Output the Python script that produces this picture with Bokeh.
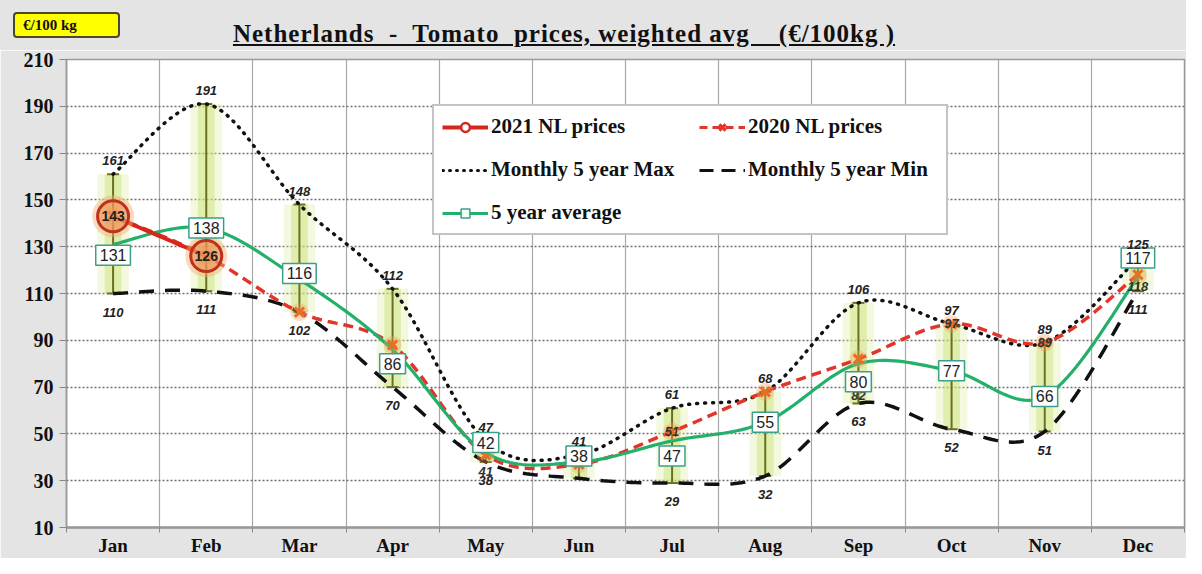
import numpy as np
from bokeh.plotting import figure
from bokeh.layouts import column
from bokeh.models import (ColumnDataSource, Legend, LegendItem, FixedTicker, Range1d, Div)
from bokeh.core.properties import value
from bokeh.embed import file_html
from bokeh.resources import INLINE

# ---------------- data ----------------
months = ["Jan", "Feb", "Mar", "Apr", "May", "Jun", "Jul", "Aug", "Sep", "Oct", "Nov", "Dec"]
max5 = [161, 191, 148, 112, 47, 41, 61, 68, 106, 97, 89, 125]
min5 = [110, 111, 102, 70, 38, 31, 29, 32, 63, 52, 51, 111]
avg5 = [131, 138, 116, 86, 42, 38, 47, 55, 80, 77, 66, 117]
nl2020 = [143, 126, 102, 88, 41, 37, 51, 68, 82, 97, 89, 118]
nl2021 = [143, 126]
# which labels are visible in the reference
min_label_shown = [1, 1, 1, 1, 1, 0, 1, 1, 1, 1, 1, 1]
nl2020_label_shown = [0, 0, 0, 0, 1, 0, 1, 0, 1, 1, 1, 1]
yticks = list(range(10, 211, 20))
title_text = "Netherlands  -  Tomato  prices, weighted avg    (€/100kg )"
unit_text = "€/100 kg"

x = list(range(1, len(months) + 1))
x21 = x[:len(nl2021)]

# label placement (style: screen-pixel nudges like Excel's label positions)
avg_label_dy = [11, 0, -6, 14, -10, -6, 15, 0, 18, 0, 0, -19]
nl2020_label_dy = [0, 0, 0, 0, 17, 0, 0, 0, 36, 0, 0, 12]


def smooth(xs, ys, n=24):
    """Excel-like smoothed line (cubic Bezier through the points)."""
    P = np.column_stack([xs, ys]).astype(float)
    out = []
    for i in range(len(P) - 1):
        p0 = P[i - 1] if i > 0 else P[i]
        p1 = P[i]
        p2 = P[i + 1]
        p3 = P[i + 2] if i + 2 < len(P) else P[i + 1]
        c1 = p1 + (p2 - p0) / 6.0
        c2 = p2 - (p3 - p1) / 6.0
        t = np.linspace(0, 1, n)[:, None]
        seg = ((1 - t) ** 3) * p1 + 3 * ((1 - t) ** 2) * t * c1 + 3 * (1 - t) * t ** 2 * c2 + t ** 3 * p2
        out.append(seg if i == 0 else seg[1:])
    S = np.vstack(out)
    return S[:, 0], S[:, 1]


SERIF = "Liberation Serif"
SANS = value("Liberation Sans")
BG = "#e4e4e4"

HEADER_H = 50
p = figure(width=1186, height=558 - HEADER_H, output_backend="svg", toolbar_location=None,
           x_range=Range1d(0.5, 12.5), y_range=Range1d(10, 210),
           min_border_left=66, min_border_right=2, min_border_top=9, min_border_bottom=20)
p.background_fill_color = "white"
p.border_fill_color = BG
p.outline_line_color = "#9a9a9a"
p.outline_line_width = 1.5

# axes
p.xaxis.ticker = FixedTicker(ticks=x, minor_ticks=[v + 0.5 for v in [0] + x])
p.xaxis.major_label_overrides = {i: m for i, m in zip(x, months)}
p.xaxis.major_tick_out = 0
p.xaxis.major_tick_in = 0
p.xaxis.minor_tick_out = 5
p.xaxis.minor_tick_in = 0
p.xaxis.minor_tick_line_color = "#888"
p.xaxis.axis_line_color = "#999"
p.xaxis.axis_line_width = 2.5
p.xaxis.major_label_text_font = SERIF
p.xaxis.major_label_text_font_style = "bold"
p.xaxis.major_label_text_font_size = "19px"
p.xaxis.major_label_text_color = "#111"
p.xaxis.major_label_standoff = 2

p.yaxis.ticker = FixedTicker(ticks=yticks)
p.yaxis.major_tick_out = 7
p.yaxis.major_tick_in = 0
p.yaxis.major_tick_line_color = "#888"
p.yaxis.minor_tick_line_color = None
p.yaxis.axis_line_color = "#999"
p.yaxis.axis_line_width = 1.5
p.yaxis.major_label_text_font = SERIF
p.yaxis.major_label_text_font_style = "bold"
p.yaxis.major_label_text_font_size = "20px"
p.yaxis.major_label_text_color = "#111"
p.yaxis.major_label_standoff = 6

p.ygrid.ticker = FixedTicker(ticks=yticks)
p.ygrid.grid_line_color = "#6f6f6f"
p.ygrid.grid_line_dash = "2 2"
p.ygrid.grid_line_width = 1.5
p.xgrid.ticker = FixedTicker(ticks=[v + 0.5 for v in [0] + x])
p.xgrid.grid_line_color = "#a8a8a8"
p.xgrid.grid_line_width = 1.2

# ---------------- min-max range bars with glow ----------------
rng = ColumnDataSource(dict(x=x, lo=min5, hi=max5))
p.vbar(x="x", bottom="lo", top="hi", width=0.34, source=rng,
       fill_color="#dcefa0", fill_alpha=0.35, line_color=None)
p.vbar(x="x", bottom="lo", top="hi", width=0.18, source=rng,
       fill_color="#c8e070", fill_alpha=0.45, line_color=None)
p.segment(x0="x", y0="lo", x1="x", y1="hi", source=rng, line_color="#6b7020", line_width=2)
p.scatter(x="x", y="hi", source=rng, marker="dash", size=12, line_color="#6b7020", line_width=2)
p.scatter(x="x", y="lo", source=rng, marker="dash", size=12, line_color="#6b7020", line_width=2)

# ---------------- lines ----------------
sx, sy = smooth(x, max5)
lmx = p.line(sx, sy, line_color="#111", line_width=3.5, line_dash="1 7", line_cap="round")
sx, sy = smooth(x, min5)
lmn = p.line(sx, sy, line_color="#111", line_width=3.5, line_dash="15 11")
sx, sy = smooth(x, nl2020)
l20 = p.line(sx, sy, line_color="#e3342a", line_width=3.5, line_dash="10 6")
sx, sy = smooth(x, avg5)
lav = p.line(sx, sy, line_color="#22b06a", line_width=3.2)
sx, sy = smooth(x21, nl2021)
l21 = p.line(sx, sy, line_color="#d9261c", line_width=4)

# 2020 markers
s20 = ColumnDataSource(dict(x=x, y=nl2020,
                            t=[str(v) if s else "" for v, s in zip(nl2020, nl2020_label_shown)],
                            dy=nl2020_label_dy))
p.scatter(x="x", y="y", source=s20, marker="circle", size=18, fill_color="#f5a060",
          fill_alpha=0.35, line_color=None)
p.scatter(x="x", y="y", source=s20, marker="x", size=13, line_color="#e8701e", line_width=3)

# 2021 markers
s21 = ColumnDataSource(dict(x=x21, y=nl2021, t=[str(v) for v in nl2021]))
p.scatter(x="x", y="y", source=s21, marker="circle", size=42, fill_color="#f3b070",
          fill_alpha=0.45, line_color=None)
p.scatter(x="x", y="y", source=s21, marker="circle", size=31, fill_color="#f08a50",
          fill_alpha=0.55, line_color="#c0301e", line_width=3)

# labels
smin = ColumnDataSource(dict(x=x, y=min5,
                             t=[str(v) if s else "" for v, s in zip(min5, min_label_shown)]))
p.text(x="x", y="y", text="t", source=smin, text_font=SANS, text_font_style="bold italic",
       text_font_size="13px", text_align="center", text_baseline="top", y_offset=14,
       text_color="#222")
p.text(x="x", y="y", text="t", source=s20, text_font=SANS, text_font_style="bold italic",
       text_font_size="13px", text_align="center", text_baseline="middle", y_offset="dy",
       text_color="#333")
p.text(x="x", y="y", text="t", source=s21, text_font=SANS, text_font_style="bold",
       text_font_size="14px", text_align="center", text_baseline="middle", text_color="#222")

# avg boxed labels
sav = ColumnDataSource(dict(x=x, y=avg5, t=[str(v) for v in avg5], dy=avg_label_dy))
p.text(x="x", y="y", text="t", source=sav, text_font=SANS, text_font_size="16px",
       text_align="center", text_baseline="middle", text_color="#222", y_offset="dy",
       background_fill_color="white", border_line_color="#3c9e8c", border_line_width=1.5,
       padding=4)

smax = ColumnDataSource(dict(x=x, y=max5, t=[str(v) for v in max5]))
p.text(x="x", y="y", text="t", source=smax, text_font=SANS, text_font_style="bold italic",
       text_font_size="13px", text_align="center", text_baseline="bottom", y_offset=-9,
       text_color="#222")

# ---------------- legend proxies (hidden, legend-only styling) ----------------
m21 = p.scatter(x=x21, y=nl2021, marker="circle", size=11, fill_color="white",
                line_color="#d9261c", line_width=2.5, visible=False)
m20 = p.scatter(x=x, y=nl2020, marker="x", size=11, line_color="#e3342a", line_width=3,
                visible=False)
lg20 = p.line(x=x, y=nl2020, line_color="#e3342a", line_width=3, line_dash="8 5", visible=False)
lgmx = p.line(x=x, y=max5, line_color="#111", line_width=3, line_dash="1 6",
              line_cap="round", visible=False)
lgmn = p.line(x=x, y=min5, line_color="#111", line_width=3, line_dash="14 8", visible=False)
mav = p.scatter(x=x, y=avg5, marker="square", size=11, fill_color="#f4fff8",
                line_color="#3c9e8c", line_width=1.5, visible=False)

legend = Legend(items=[
    LegendItem(label="2021 NL prices", renderers=[l21, m21]),
    LegendItem(label="2020 NL prices", renderers=[lg20, m20]),
    LegendItem(label="Monthly 5 year Max", renderers=[lgmx]),
    LegendItem(label="Monthly 5 year Min", renderers=[lgmn]),
    LegendItem(label="5 year average", renderers=[lav, mav]),
], orientation="horizontal", ncols=2, location=(366, 292))
legend.label_text_font = SERIF
legend.label_text_font_style = "bold"
legend.label_text_font_size = "21px"
legend.label_text_color = "#111"
legend.glyph_width = 46
legend.glyph_height = 22
legend.label_standoff = 3
legend.label_width = 190
legend.spacing = 18
legend.padding = 8
legend.margin = 0
legend.border_line_color = "#888"
legend.border_line_width = 2
legend.background_fill_color = "white"
legend.background_fill_alpha = 1
p.add_layout(legend, "center")

# ---------------- header: unit box and underlined title ----------------
header = Div(
    width=1186, height=HEADER_H, margin=0,
    text=(
        f'<div style="position:relative;width:1186px;height:{HEADER_H}px;background:{BG};">'
        '<div style="position:absolute;left:13px;top:12px;width:107px;height:26px;'
        'background:#ffff00;border:2px solid #4a4a2a;border-radius:4px;box-sizing:border-box;'
        'font-family:\'Liberation Serif\';font-weight:bold;font-size:15px;line-height:22px;'
        f'padding-left:8px;color:#111;">{unit_text}</div>'
        '<div style="position:absolute;left:0;top:21px;width:1128px;text-align:center;'
        'font-family:\'Liberation Serif\';font-weight:bold;font-size:25px;line-height:26px;'
        f'letter-spacing:1px;white-space:pre;text-decoration:underline;color:#111;">{title_text}</div>'
        '</div>'
    ),
)

layout = column(header, p, spacing=0)
open("out.html", "w").write(file_html(layout, INLINE))
